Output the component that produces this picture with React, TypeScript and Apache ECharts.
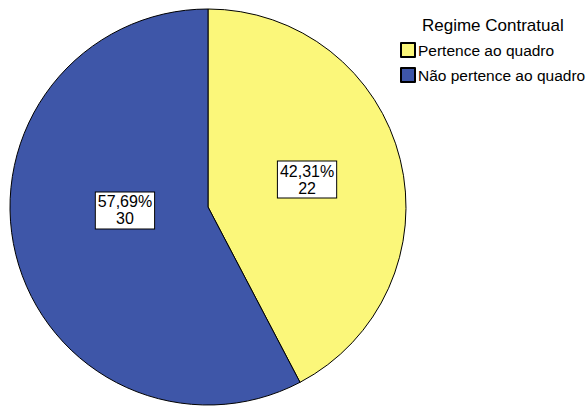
import React, { useEffect, useRef } from "react";
import * as echarts from "echarts";

const legendTitle = "Regime Contratual";
const categories = ["Pertence ao quadro", "Não pertence ao quadro"];
const counts = [22, 30];
const colors = ["#FBF77A", "#3E56A8"];
// nudges for the inside value boxes, in px
const labelOffsets: [number, number][] = [
  [0, -3],
  [16, -21],
];

const FONT = "Arial, 'Liberation Sans', Helvetica, sans-serif";

export default function App() {
  const ref = useRef<HTMLDivElement>(null);

  useEffect(() => {
    if (!ref.current) return;
    const chart = echarts.init(ref.current, null, { renderer: "svg" });
    chart.setOption({
      animation: false,
      backgroundColor: "#ffffff",
      title: {
        text: legendTitle,
        left: 422,
        top: 17,
        padding: 0,
        textStyle: { fontFamily: FONT, fontSize: 17, fontWeight: "normal", color: "#000" },
      },
      legend: {
        orient: "vertical",
        left: 395,
        top: 37,
        icon: "rect",
        itemWidth: 14,
        itemHeight: 14,
        itemGap: 9,
        textStyle: {
          fontFamily: FONT,
          fontSize: 15.5,
          lineHeight: 14,
          color: "#000",
          padding: [0, 0, 0, -2],
        },
        data: categories,
      },
      series: [
        {
          type: "pie",
          center: [208, 207],
          radius: [0, 198],
          startAngle: 90,
          clockwise: true,
          percentPrecision: 2,
          itemStyle: { borderColor: "#000", borderWidth: 1 },
          emphasis: { disabled: true },
          label: {
            show: true,
            position: "inside",
            fontFamily: FONT,
            fontSize: 16,
            lineHeight: 17,
            color: "#000",
            backgroundColor: "#fff",
            borderColor: "#000",
            borderWidth: 1,
            padding: [1, 2, 1, 2],
            align: "center",
            formatter: (p: any) =>
              `${p.percent.toFixed(2).replace(".", ",")}%\n${p.value}`,
          },
          labelLine: { show: false },
          data: categories.map((name, i) => ({
            name,
            value: counts[i],
            itemStyle: { color: colors[i] },
            label: { offset: labelOffsets[i] },
          })),
        },
      ],
    });
    return () => chart.dispose();
  }, []);

  return (
    <div
      ref={ref}
      style={{ position: "absolute", left: 0, top: 0, width: 587, height: 406 }}
    />
  );
}
